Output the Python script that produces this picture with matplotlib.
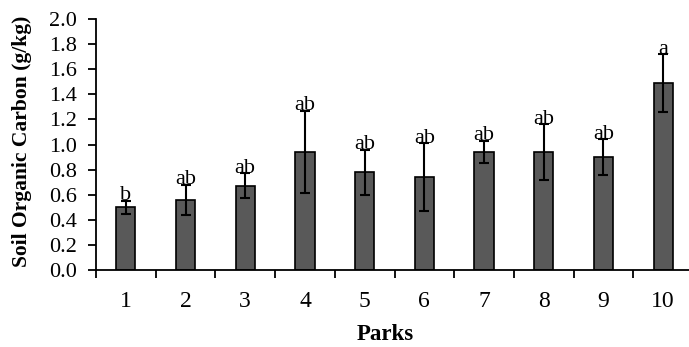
import numpy as np
import matplotlib
matplotlib.use("Agg")
from matplotlib import pyplot as plt

parks = ["1", "2", "3", "4", "5", "6", "7", "8", "9", "10"]
soc = [0.50, 0.56, 0.67, 0.94, 0.78, 0.74, 0.94, 0.94, 0.90, 1.49]
soc_err = [0.05, 0.12, 0.10, 0.33, 0.18, 0.27, 0.09, 0.22, 0.14, 0.23]
groups = ["b", "ab", "ab", "ab", "ab", "ab", "ab", "ab", "ab", "a"]

plt.rcParams['font.family'] = ['Liberation Serif', 'DejaVu Serif']

fig = plt.figure(figsize=(6.89, 3.47), dpi=100)
# axes span from x=96px to ~693px (chart is cut at the right edge)
ax = fig.add_axes([96/689, 1 - 270/347, 597/689, 251/347])

x = np.arange(len(parks))
ax.bar(x, soc, width=0.32, color='#595959', edgecolor='black', linewidth=1.2, zorder=2)
ax.errorbar(x, soc, yerr=soc_err, fmt='none', ecolor='black', elinewidth=1.5,
            capsize=3.5, capthick=1.5, zorder=3)

for xi, v, e, g in zip(x, soc, soc_err, groups):
    ax.text(xi, v + e + 0.005, g, ha='center', va='baseline', fontsize=16)

ax.set_xlim(-0.5, 9.5)
ax.set_ylim(0, 2.0)
yt = np.arange(0, 2.01, 0.2)
ax.set_yticks(yt)
ax.set_yticklabels([f"{t:.1f}" for t in yt])
ax.set_xticks(x)
ax.set_xticklabels(parks)
ax.set_xticks(np.arange(-0.5, 9.6, 1), minor=True)

ax.spines['top'].set_visible(False)
ax.spines['right'].set_visible(False)
ax.spines['left'].set_linewidth(1.3)
ax.spines['bottom'].set_linewidth(1.3)

ax.tick_params(axis='x', which='major', length=0, pad=15, labelsize=17)
ax.tick_params(axis='x', which='minor', length=5.5, width=1.3, direction='out')
ax.tick_params(axis='y', length=6, width=1.3, direction='out', labelsize=16, pad=8)

fig.text(385/689, 1 - 334/347, "Parks", fontsize=16.5, fontweight='bold',
         ha='center', va='center')
fig.text(22/689, 1 - 141/347, "Soil Organic Carbon (g/kg)", fontsize=15.5,
         fontweight='bold', rotation=90, ha='center', va='center')

fig.savefig("out.png", dpi=100)
